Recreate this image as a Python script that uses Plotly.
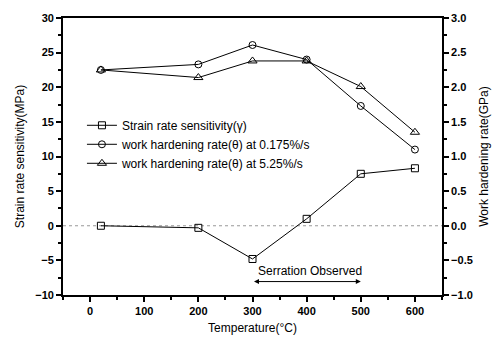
import plotly.graph_objects as go

temps = [20, 200, 300, 400, 500, 600]
srs = [0.0, -0.3, -4.8, 1.0, 7.5, 8.3]
whr_slow = [2.25, 2.33, 2.61, 2.40, 1.73, 1.10]
whr_fast = [2.25, 2.14, 2.38, 2.38, 2.01, 1.35]

FONT = "Liberation Sans, Arial, sans-serif"
fig = go.Figure()
fig.add_trace(go.Scatter(x=[-50, 650], y=[0, 0], mode="lines", showlegend=False,
                         line=dict(color="#999", width=1, dash="dot"), hoverinfo="skip"))
fig.add_trace(go.Scatter(x=temps, y=srs, mode="lines+markers", name="Strain rate sensitivity(γ)",
                         line=dict(color="black", width=1),
                         marker=dict(symbol="square-open", size=7, color="black")))
fig.add_trace(go.Scatter(x=temps, y=whr_slow, mode="lines+markers", yaxis="y2",
                         name="work hardening rate(θ) at 0.175%/s",
                         line=dict(color="black", width=1),
                         marker=dict(symbol="circle-open", size=7, color="black")))
fig.add_trace(go.Scatter(x=temps, y=whr_fast, mode="lines+markers", yaxis="y2",
                         name="work hardening rate(θ) at 5.25%/s",
                         line=dict(color="black", width=1),
                         marker=dict(symbol="triangle-up-open", size=8, color="black")))

tickfont = dict(family=FONT, size=11, color="black", weight="bold")
fig.update_layout(
    width=502, height=345,
    margin=dict(l=63, r=60, t=13, b=49),
    paper_bgcolor="white", plot_bgcolor="white",
    font=dict(family=FONT, color="black"),
    xaxis=dict(range=[-50, 650], tickvals=[0, 100, 200, 300, 400, 500, 600],
               ticks="outside", ticklen=5, tickwidth=1.5, tickcolor="black",
               minor=dict(dtick=50, ticks="outside", ticklen=3, tickcolor="black"),
               showline=True, linecolor="black", linewidth=1.8, mirror=True,
               showgrid=False, zeroline=False, tickfont=tickfont,
               title=dict(text="Temperature(°C)", font=dict(size=12), standoff=8)),
    yaxis=dict(range=[-10, 30], dtick=5, ticks="outside", ticklen=5, tickwidth=1.5,
               tickcolor="black",
               minor=dict(dtick=2.5, ticks="outside", ticklen=3, tickcolor="black"),
               showline=True, linecolor="black", linewidth=1.8,
               showgrid=False, zeroline=False, tickfont=tickfont,
               title=dict(text="Strain rate sensitivity(MPa)", font=dict(size=12), standoff=8)),
    yaxis2=dict(range=[-1, 3], dtick=0.5, tickformat=".1f", overlaying="y", side="right",
                ticks="outside", ticklen=5, tickwidth=1.5, tickcolor="black",
                minor=dict(dtick=0.25, ticks="outside", ticklen=3, tickcolor="black"),
                showline=True, linecolor="black", linewidth=1.8,
                showgrid=False, zeroline=False, tickfont=tickfont,
                title=dict(text="Work hardening rate(GPa)", font=dict(size=12), standoff=8)),
    legend=dict(x=0.05, y=0.665, xanchor="left", yanchor="top", bgcolor="rgba(0,0,0,0)",
                font=dict(size=12, family=FONT), tracegroupgap=0, itemwidth=30),
    showlegend=True,
)
fig.add_annotation(x=500, y=-8.06, ax=300, ay=-8.06, xref="x", yref="y", axref="x", ayref="y",
                   text="", showarrow=True, arrowhead=2, arrowside="end+start",
                   arrowsize=1, arrowwidth=1, arrowcolor="black")
fig.add_annotation(x=407, y=-6.6, xref="x", yref="y", text="Serration Observed",
                   showarrow=False, font=dict(size=12, family=FONT, color="black"))
fig.write_html("out.html")
